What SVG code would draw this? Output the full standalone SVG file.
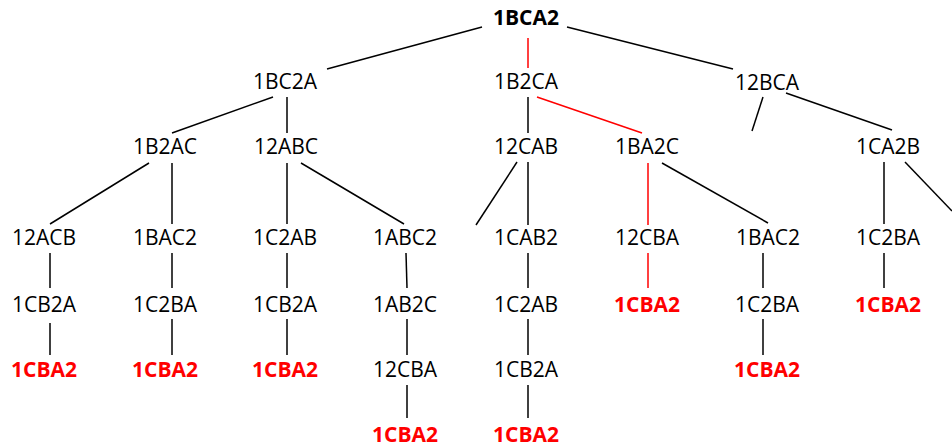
<svg xmlns="http://www.w3.org/2000/svg" width="952" height="444" viewBox="0 0 952 444">
<style>
text{font-family:"Open Sans","Liberation Sans",sans-serif;font-size:21px;text-anchor:middle;fill:#000}
.g{font-weight:bold;fill:#ff0000}
.b{font-weight:bold}
.c line{stroke:#000;stroke-width:1.5}
.c line.r{stroke:#ff0000}
</style>
<rect width="952" height="444" fill="#fff"/>
<g id="connectors" class="c">
<line x1="482" y1="27" x2="327" y2="69"/>
<line class="r" x1="528" y1="38" x2="528" y2="68"/>
<line x1="567" y1="27" x2="733" y2="69"/>
<line x1="273" y1="97" x2="172" y2="133"/>
<line x1="287" y1="97" x2="287" y2="133"/>
<line x1="528" y1="97" x2="528" y2="133"/>
<line class="r" x1="537" y1="97" x2="642" y2="133"/>
<line x1="763" y1="97" x2="752" y2="131"/>
<line x1="786" y1="93" x2="892" y2="130"/>
<line x1="149" y1="163" x2="50" y2="224"/>
<line x1="172" y1="163" x2="172" y2="224"/>
<line x1="287" y1="163" x2="287" y2="224"/>
<line x1="301" y1="163" x2="404" y2="224"/>
<line x1="517" y1="162" x2="476" y2="225"/>
<line x1="528" y1="162" x2="528" y2="225"/>
<line class="r" x1="648" y1="163" x2="648" y2="225"/>
<line x1="662" y1="163" x2="768" y2="223"/>
<line x1="884" y1="162" x2="884" y2="224"/>
<line x1="905" y1="162" x2="952" y2="211"/>
<line x1="50" y1="253" x2="50" y2="288"/>
<line x1="172" y1="253" x2="172" y2="288"/>
<line x1="287" y1="253" x2="287" y2="288"/>
<line x1="406" y1="253" x2="407" y2="288"/>
<line x1="528" y1="253" x2="528" y2="288"/>
<line class="r" x1="648" y1="253" x2="648" y2="288"/>
<line x1="763" y1="253" x2="763" y2="288"/>
<line x1="884" y1="253" x2="884" y2="288"/>
<line x1="50" y1="323" x2="50" y2="355"/>
<line x1="172" y1="319" x2="172" y2="355"/>
<line x1="287" y1="319" x2="287" y2="355"/>
<line x1="407" y1="319" x2="407" y2="355"/>
<line x1="528" y1="319" x2="528" y2="355"/>
<line x1="763" y1="319" x2="763" y2="355"/>
<line x1="407" y1="385" x2="407" y2="418"/>
<line x1="528" y1="385" x2="528" y2="418"/>
</g>
<g id="n_root"><text class="b" x="526" y="25">1BCA2</text></g>
<g id="n_1BC2A"><text x="285" y="89">1BC2A</text></g>
<g id="n_1B2CA"><text x="526" y="89">1B2CA</text></g>
<g id="n_12BCA"><text x="767" y="90">12BCA</text></g>
<g id="n_1B2AC"><text x="165" y="154">1B2AC</text></g>
<g id="n_12ABC"><text x="286" y="154">12ABC</text></g>
<g id="n_12CAB"><text x="526" y="154">12CAB</text></g>
<g id="n_1BA2C"><text x="647" y="154">1BA2C</text></g>
<g id="n_1CA2B"><text x="888" y="154">1CA2B</text></g>
<g id="n_12ACB"><text x="44" y="245">12ACB</text></g>
<g id="n_1BAC2_a"><text x="165" y="245">1BAC2</text></g>
<g id="n_1C2AB_a"><text x="285" y="245">1C2AB</text></g>
<g id="n_1ABC2"><text x="405" y="245">1ABC2</text></g>
<g id="n_1CAB2"><text x="526" y="245">1CAB2</text></g>
<g id="n_12CBA_a"><text x="647" y="245">12CBA</text></g>
<g id="n_1BAC2_b"><text x="768" y="245">1BAC2</text></g>
<g id="n_1C2BA_c"><text x="888" y="245">1C2BA</text></g>
<g id="n_1CB2A_a"><text x="44" y="312">1CB2A</text></g>
<g id="n_1C2BA_a"><text x="165" y="312">1C2BA</text></g>
<g id="n_1CB2A_b"><text x="285" y="312">1CB2A</text></g>
<g id="n_1AB2C"><text x="405" y="312">1AB2C</text></g>
<g id="n_1C2AB_b"><text x="526" y="312">1C2AB</text></g>
<g id="n_goal_4"><text class="g" x="647" y="312">1CBA2</text></g>
<g id="n_1C2BA_b"><text x="767" y="312">1C2BA</text></g>
<g id="n_goal_8"><text class="g" x="888" y="312">1CBA2</text></g>
<g id="n_goal_1"><text class="g" x="44" y="377">1CBA2</text></g>
<g id="n_goal_2"><text class="g" x="165" y="377">1CBA2</text></g>
<g id="n_goal_3"><text class="g" x="285" y="377">1CBA2</text></g>
<g id="n_12CBA_b"><text x="405" y="377">12CBA</text></g>
<g id="n_1CB2A_c"><text x="526" y="377">1CB2A</text></g>
<g id="n_goal_7"><text class="g" x="767" y="377">1CBA2</text></g>
<g id="n_goal_5"><text class="g" x="405" y="442">1CBA2</text></g>
<g id="n_goal_6"><text class="g" x="526" y="442">1CBA2</text></g>
</svg>
